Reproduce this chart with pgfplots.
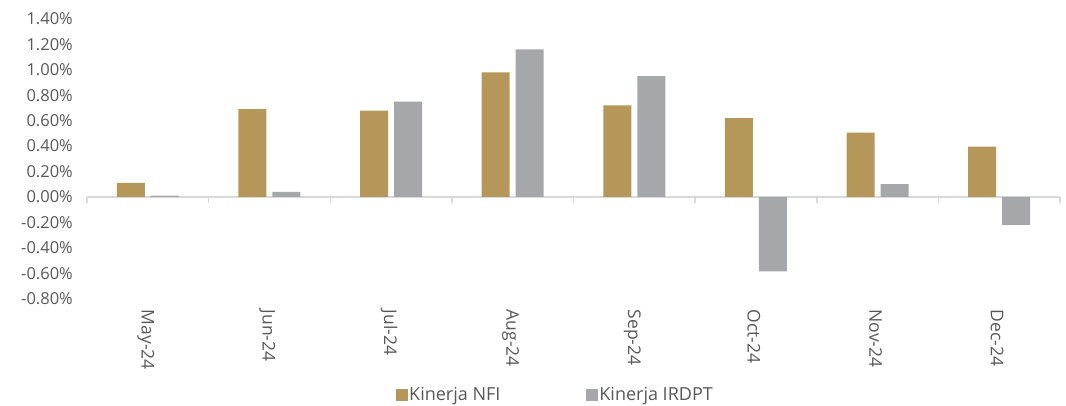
\documentclass[border=0pt]{standalone}
\usepackage{fontspec}
\setmainfont{Open Sans}
\usepackage{pgfplots}
\pgfplotsset{compat=1.18}
\definecolor{nfi}{HTML}{B5975A}
\definecolor{irdpt}{HTML}{A5A8AA}
\definecolor{txt}{HTML}{595959}
\definecolor{axl}{HTML}{D9D9D9}
\begin{document}
\begin{tikzpicture}[x=1pt,y=1pt]
\useasboundingbox (-87,-107.4) rectangle (979,298.6);
\begin{axis}[
  at={(0,0)}, anchor=south west,
  scale only axis, width=973pt, height=279.6pt,
  xmin=-0.5, xmax=7.5, ymin=-0.8, ymax=1.4,
  ybar=6pt, bar width=28pt,
  axis x line*=bottom, axis y line*=left,
  x axis line style={draw=none}, y axis line style={draw=none},
  xtick={0,...,7}, major tick length=0pt,
  xticklabels={May-24,Jun-24,Jul-24,Aug-24,Sep-24,Oct-24,Nov-24,Dec-24},
  x tick label style={rotate=-90, anchor=west, text=txt, font=\fontsize{17.5}{20}\selectfont, yshift=-2pt, xshift=11pt, inner sep=0pt},
  ytick={-0.8,-0.6,...,1.41},
  yticklabel={\pgfmathprintnumber[fixed,fixed zerofill,precision=2,assume math mode=true]{\tick}\%},
  y tick label style={text=txt, font=\fontsize{16.5}{19}\selectfont, xshift=-14pt, inner sep=0pt},
  /pgf/number format/assume math mode=true,
  legend style={at={(0.481,-0.345)}, anchor=center, draw=none, fill=none,
    legend columns=2, font=\fontsize{18}{20}\selectfont, text=txt,
    /tikz/every even column/.append style={column sep=84pt},
    nodes={inner sep=1.5pt},
    legend cell align=left, inner sep=0pt},
  legend image code/.code={\fill[#1,draw=none] (0pt,-6pt) rectangle (12pt,6pt);},
  clip=false,
]
\draw[axl, line width=1.5pt] (axis cs:-0.5,0) -- (axis cs:7.5,0);
\pgfplotsinvokeforeach{-0.5,0.5,1.5,2.5,3.5,4.5,5.5,6.5,7.5}{
  \draw[axl, line width=1.5pt] (axis cs:#1,0) -- ([yshift=-6pt]axis cs:#1,0);
}
\addplot[fill=nfi, draw=none] coordinates {(0,0.11) (1,0.69) (2,0.68) (3,0.98) (4,0.72) (5,0.62) (6,0.505) (7,0.395)};
\addplot[fill=irdpt, draw=none] coordinates {(0,0.01) (1,0.04) (2,0.75) (3,1.16) (4,0.95) (5,-0.585) (6,0.10) (7,-0.22)};
\legend{Kinerja NFI, Kinerja IRDPT}
\end{axis}
\end{tikzpicture}
\end{document}
